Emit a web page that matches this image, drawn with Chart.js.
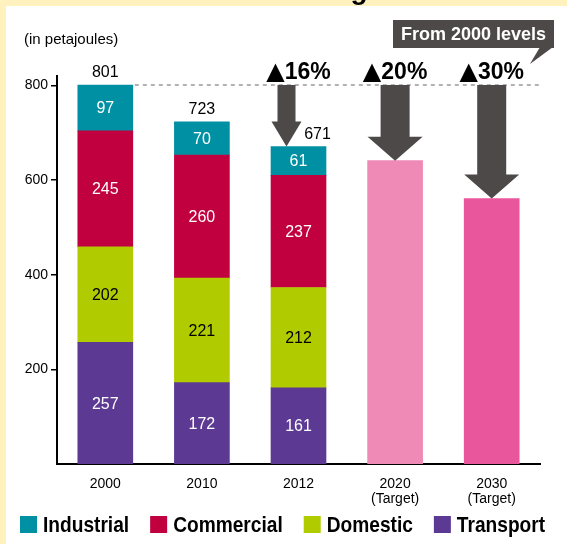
<!DOCTYPE html>
<html><head><meta charset="utf-8">
<script src="https://cdn.jsdelivr.net/npm/chart.js@4"></script>
<style>html,body{margin:0;padding:0;background:#fff;}#wrap{width:567px;height:544px;position:relative;}</style>
</head><body><div id="wrap"><canvas id="c" width="567" height="544"></canvas></div>
<script>
// ---- data ----
const titleText = 'Reduction targets';
const unitLabel = '(in petajoules)';
const calloutText = 'From 2000 levels';
const categories = [['2000'], ['2010'], ['2012'], ['2020', '(Target)'], ['2030', '(Target)']];
const transport  = [257, 172, 161, null, null];
const domestic   = [202, 221, 212, null, null];
const commercial = [245, 260, 237, null, null];
const industrial = [97, 70, 61, null, null];
const targets    = [null, null, null, 641, 561];
const reductionLabels = [null, null, '▲16%', '▲20%', '▲30%'];
const yTicks = [200, 400, 600, 800];

// ---- styles ----
const C = {
  industrial: '#0090A3', commercial: '#C1003F', domestic: '#B0CB00', transport: '#5C3A93',
  t2020: '#EF8AB6', t2030: '#E9569C', arrow: '#4D4948', yellow: '#FFF2BF'
};
const FONT = '"Liberation Sans", Arial, "DejaVu Sans", sans-serif';

const totals = categories.map((_, i) =>
  [transport, domestic, commercial, industrial].reduce((s, a) => s + (a[i] || 0), 0));
const baseTotal = totals[0];

function drawArrow(c, cx, yTop, yTip, shaftW, headW, headH) {
  c.beginPath();
  c.moveTo(cx - shaftW / 2, yTop);
  c.lineTo(cx + shaftW / 2, yTop);
  c.lineTo(cx + shaftW / 2, yTip - headH);
  c.lineTo(cx + headW / 2, yTip - headH);
  c.lineTo(cx, yTip);
  c.lineTo(cx - headW / 2, yTip - headH);
  c.lineTo(cx - shaftW / 2, yTip - headH);
  c.closePath();
  c.fill();
}

const overlay = {
  id: 'overlay',
  beforeDraw(chart) {
    const c = chart.ctx;
    c.save();
    c.fillStyle = C.yellow; c.fillRect(0, 0, chart.width, chart.height);
    c.fillStyle = '#fff'; c.fillRect(6, 6, chart.width - 6, chart.height - 6);
    c.fillStyle = '#000'; c.font = 'bold 28px ' + FONT;
    c.textAlign = 'left'; c.textBaseline = 'alphabetic';
    c.fillText(titleText, 170, -1);
    c.restore();
  },
  beforeDatasetsDraw(chart) {
    const c = chart.ctx, y = chart.scales.y.getPixelForValue(baseTotal);
    const firstBar = chart.getDatasetMeta(0).data[0];
    c.save();
    c.strokeStyle = '#9a9a9a'; c.lineWidth = 1.5; c.setLineDash([4, 4]);
    c.beginPath(); c.moveTo(firstBar.x + firstBar.width / 2 + 2, y); c.lineTo(chart.chartArea.right, y); c.stroke();
    c.restore();
  },
  afterDatasetsDraw(chart) {
    const c = chart.ctx, ys = chart.scales.y;
    c.save();
    // segment labels
    c.textAlign = 'center'; c.textBaseline = 'middle'; c.font = '16px ' + FONT;
    for (let d = 0; d < 4; d++) {
      const ds = chart.data.datasets[d], meta = chart.getDatasetMeta(d);
      ds.data.forEach((v, i) => {
        if (v == null) return;
        const el = meta.data[i];
        c.fillStyle = ds.labelColor;
        c.fillText(String(v), el.x, (el.y + el.base) / 2 + 1);
      });
    }
    // totals
    const topMeta = chart.getDatasetMeta(3);
    c.fillStyle = '#000';
    totals.forEach((t, i) => {
      if (!t) return;
      const el = topMeta.data[i];
      const dx = reductionLabels[i] ? 19 : 0;
      c.fillText(String(t), el.x + dx, el.y - 12);
    });
    // arrows + reduction labels
    const yBase = ys.getPixelForValue(baseTotal);
    c.fillStyle = C.arrow;
    reductionLabels.forEach((lab, i) => {
      if (!lab) return;
      const actual = targets[i] == null;
      const el = actual ? topMeta.data[i] : chart.getDatasetMeta(4).data[i];
      if (actual) drawArrow(c, el.x - 12, yBase, el.y, 18, 30, 25);
      else drawArrow(c, el.x, yBase, el.y, 29, el.width, 24);
    });
    c.fillStyle = '#000'; c.textBaseline = 'alphabetic'; c.textAlign = 'left';
    const triFont = 'bold 24px "DejaVu Sans", sans-serif', numFont = 'bold 23px ' + FONT;
    reductionLabels.forEach((lab, i) => {
      if (!lab) return;
      const el = chart.getDatasetMeta(4).data[i];
      const tri = lab.charAt(0), rest = lab.slice(1);
      c.font = triFont; const tw = c.measureText(tri).width;
      c.font = numFont; const rw = c.measureText(rest).width;
      const x0 = el.x - (tw + rw) / 2;
      c.font = triFont; c.fillText(tri, x0, 79);
      c.font = numFont; c.fillText(rest, x0 + tw, 79);
    });
    // callout
    c.fillStyle = C.arrow;
    c.fillRect(393, 20, 161, 28);
    c.beginPath(); c.moveTo(540, 47); c.lineTo(553, 47); c.lineTo(530, 64); c.closePath(); c.fill();
    c.fillStyle = '#fff'; c.font = 'bold 18px ' + FONT; c.textAlign = 'center';
    c.fillText(calloutText, 473.5, 40);
    // unit label
    c.fillStyle = '#000'; c.font = '15px ' + FONT; c.textAlign = 'left';
    c.fillText(unitLabel, 24, 44);
    // legend (condensed bold text)
    c.font = 'bold 22px ' + FONT;
    const squeeze = 0.87;
    let x = 20;
    [3, 2, 1, 0].forEach(d => {
      const ds = chart.data.datasets[d];
      c.fillStyle = ds.backgroundColor;
      c.fillRect(x, 516, 17, 17);
      c.fillStyle = '#000';
      c.save();
      c.translate(x + 23, 532); c.scale(squeeze, 1);
      c.fillText(ds.label, 0, 0);
      c.restore();
      x += 23 + c.measureText(ds.label).width * squeeze + 21;
    });
    c.restore();
  }
};

new Chart(document.getElementById('c'), {
  type: 'bar',
  data: {
    labels: categories,
    datasets: [
      { label: 'Transport', data: transport, backgroundColor: C.transport, labelColor: '#fff' },
      { label: 'Domestic', data: domestic, backgroundColor: C.domestic, labelColor: '#000' },
      { label: 'Commercial', data: commercial, backgroundColor: C.commercial, labelColor: '#fff' },
      { label: 'Industrial', data: industrial, backgroundColor: C.industrial, labelColor: '#fff' },
      { label: 'Target', data: targets, backgroundColor: ['#000', '#000', '#000', C.t2020, C.t2030] }
    ]
  },
  options: {
    responsive: false, animation: false, devicePixelRatio: 1,
    datasets: { bar: { barThickness: 55, borderWidth: 0, stack: 's' } },
    layout: { padding: { top: 76, right: 27, bottom: 0, left: 0 } },
    plugins: { legend: { display: false }, tooltip: { enabled: false }, title: { display: false } },
    scales: {
      x: {
        stacked: true,
        grid: { display: false },
        border: { display: true, color: '#000', width: 2 },
        ticks: { color: '#000', font: { family: FONT, size: 14, lineHeight: 1.05 }, padding: 5, maxRotation: 0 },
        afterFit(s) { s.height = 80; }
      },
      y: {
        stacked: true, min: 0, max: 820,
        afterBuildTicks(s) { s.ticks = yTicks.map(v => ({ value: v })); },
        grid: { drawOnChartArea: false, drawTicks: true, tickLength: 6, color: '#000', lineWidth: 1.5 },
        border: { display: true, color: '#000', width: 2 },
        ticks: { color: '#000', font: { family: FONT, size: 14 }, padding: 3 },
        afterFit(s) { s.width = 57; }
      }
    }
  },
  plugins: [overlay]
});
</script></body></html>
